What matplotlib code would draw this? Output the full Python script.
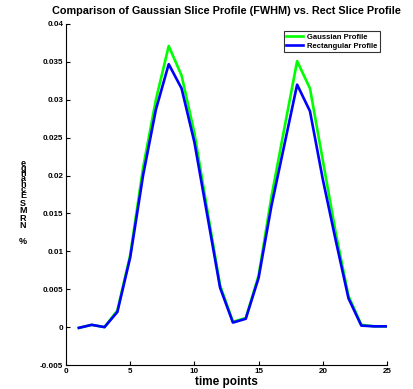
import numpy as np
import matplotlib
matplotlib.use("Agg")
import matplotlib.pyplot as plt

plt.rcParams['font.family'] = ['Liberation Sans', 'DejaVu Sans']
plt.rcParams['font.weight'] = 'bold'

# time points and the two slice profiles
t = np.arange(1, 26)
gauss = [-0.0001, 0.0003, 0.0000, 0.0022, 0.0095, 0.0210, 0.0300, 0.0371, 0.0332,
         0.0256, 0.0155, 0.0055, 0.0007, 0.0012, 0.0068, 0.0172, 0.0262, 0.0351,
         0.0315, 0.0220, 0.0125, 0.0041, 0.0003, 0.0001, 0.0001]
rect = [-0.0001, 0.0003, 0.0000, 0.0020, 0.0092, 0.0200, 0.0287, 0.0347, 0.0315,
        0.0244, 0.0148, 0.0052, 0.0006, 0.0011, 0.0065, 0.0160, 0.0240, 0.0320,
        0.0285, 0.0195, 0.0115, 0.0038, 0.0002, 0.0001, 0.0001]
yticks = [-0.005, 0, 0.005, 0.01, 0.015, 0.02, 0.025, 0.03, 0.035, 0.04]
ylabels = ['-0.005', '0', '0.005', '0.01', '0.015', '0.02', '0.025', '0.03', '0.035', '0.04']

fig = plt.figure(figsize=(4.13, 3.89), dpi=100)
ax = fig.add_axes([66/413, 1-365/389, 321/413, 341/389])

ax.plot(t, gauss, color=(0, 1, 0), linewidth=1.9, label='Gaussian Profile')
ax.plot(t, rect, color=(0, 0, 1), linewidth=1.9, label='Rectangular Profile')

ax.set_xlim(0, 25)
ax.set_ylim(-0.005, 0.04)
ax.set_xticks([0, 5, 10, 15, 20, 25])
ax.set_yticks(yticks)
ax.set_yticklabels(ylabels)
ax.tick_params(direction='in', length=3, width=0.8, labelsize=5.8, pad=2)
for lab in ax.get_xticklabels() + ax.get_yticklabels():
    lab.set_fontweight('bold')
ax.spines['top'].set_visible(False)
ax.spines['right'].set_visible(False)

ax.set_title('Comparison of Gaussian Slice Profile (FWHM) vs. Rect Slice Profile',
             fontsize=7.8, fontweight='bold', pad=7)
ax.set_xlabel('time points', fontsize=8.5, fontweight='bold', labelpad=1)

leg = ax.legend(loc='upper right', bbox_to_anchor=(0.99, 0.99), fontsize=5.5,
                frameon=True, fancybox=False, edgecolor='black', handlelength=2.2,
                borderpad=0.3, labelspacing=0.2, handletextpad=0.6)
leg.get_frame().set_linewidth(0.8)

# garbled stacked y label as in the original (upright letters, stacked)
fig.text(23/413, 1-159/389, 'e\ng\nn\na\nh\nc', fontsize=6.5, fontweight='bold',
         ha='center', va='top', linespacing=0.45)
fig.text(23/413, 1-191/389, 'E\nS\nM\nR\nN', fontsize=6.5, fontweight='bold',
         ha='center', va='top', linespacing=0.8)
fig.text(23/413, 1-241/389, '%', fontsize=6.5, fontweight='bold',
         ha='center', va='center')

fig.savefig('out.png', dpi=100)
